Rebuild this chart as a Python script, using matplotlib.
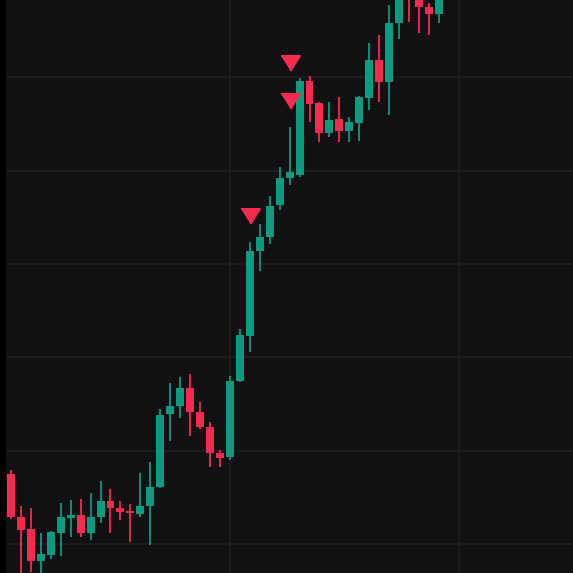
import numpy as np
import matplotlib
matplotlib.use("Agg")
import matplotlib.pyplot as plt

# candle values (open, high, low, close)
opens = [67.50, 62.89, 61.61, 58.18, 58.82, 61.18, 62.79, 63.11, 61.18, 62.89,
         64.61, 63.86, 63.54, 63.21, 64.07, 66.11, 73.93, 74.79, 76.71, 74.14,
         72.54, 69.75, 69.32, 77.46, 82.29, 91.39, 92.89, 96.32, 99.22, 99.54,
         109.61, 107.25, 104.04, 105.54, 104.25, 105.11, 107.79, 111.86, 109.50, 115.82,
         119.36, 118.50, 117.54, 116.79]
highs = [67.93, 64.07, 63.86, 61.18, 61.39, 64.39, 64.71, 64.82, 65.46, 66.75,
         65.89, 64.61, 64.29, 67.61, 68.79, 74.46, 77.25, 77.89, 78.22, 75.21,
         73.07, 70.07, 78.00, 83.04, 92.36, 94.29, 97.29, 100.39, 104.68, 109.93,
         110.14, 107.36, 107.36, 107.89, 105.75, 108.00, 113.68, 114.54, 117.75, 119.89,
         120.43, 118.82, 117.96, 119.36]
lows = [62.68, 56.36, 57.00, 56.68, 58.39, 58.71, 60.75, 60.75, 60.43, 62.25,
        61.18, 62.57, 60.21, 62.89, 59.89, 66.00, 71.04, 73.50, 71.57, 72.32,
        68.25, 68.25, 69.00, 77.36, 80.57, 89.25, 92.14, 95.79, 98.47, 99.32,
        105.22, 103.07, 103.61, 103.07, 103.07, 103.18, 106.50, 107.36, 105.96, 114.11,
        115.93, 114.75, 114.54, 115.82]
closes = [62.89, 61.50, 58.18, 58.93, 61.29, 62.89, 63.11, 61.18, 62.89, 64.61,
          63.86, 63.43, 63.32, 64.07, 66.11, 73.82, 74.79, 76.71, 74.14, 72.54,
          69.75, 69.21, 77.46, 82.39, 91.39, 92.89, 96.22, 99.22, 99.86, 109.61,
          107.14, 104.04, 105.43, 104.25, 105.22, 107.89, 111.86, 109.50, 115.82, 119.14,
          118.50, 117.54, 116.79, 118.82]

# sell signal markers
signal_idx = [24, 28, 28]
signal_price = [95.14, 111.54, 107.46]

bg = "#111113"
up = "#0b9b80"
down = "#f72a50"
grid = "#1e1e21"

fig = plt.figure(figsize=(5.73, 5.73), dpi=100, facecolor="black")
ax = fig.add_axes([6 / 573, 0, 1 - 6 / 573, 1])
ax.set_facecolor(bg)

for y in [60, 70, 80, 90, 100, 110]:
    ax.axhline(y, color=grid, lw=1.2, zorder=0)
for x in [22, 45]:
    ax.axvline(x, color=grid, lw=1.2, zorder=0)

w = 0.8
for i in range(len(opens)):
    o, h, l, c = opens[i], highs[i], lows[i], closes[i]
    col = up if c >= o else down
    ax.vlines(i, l, h, color=col, lw=1.3, zorder=2)
    bottom = min(o, c)
    height = max(abs(c - o), 0.25)
    ax.bar(i, height, bottom=bottom, width=w, color=col, lw=0, zorder=3)

tri = [(-1, 0.8), (1, 0.8), (0, -0.8)]
ax.plot(signal_idx, signal_price, linestyle="none", marker=tri, markersize=13.5,
        color=down, markeredgewidth=1.5, markeredgecolor=down, zorder=4)

ax.set_xlim(-0.5, 56.48)
ax.set_ylim(56.89, 118.29)
ax.set_xticks([])
ax.set_yticks([])
for s in ax.spines.values():
    s.set_visible(False)

plt.savefig("out.png", dpi=100, facecolor=fig.get_facecolor())
